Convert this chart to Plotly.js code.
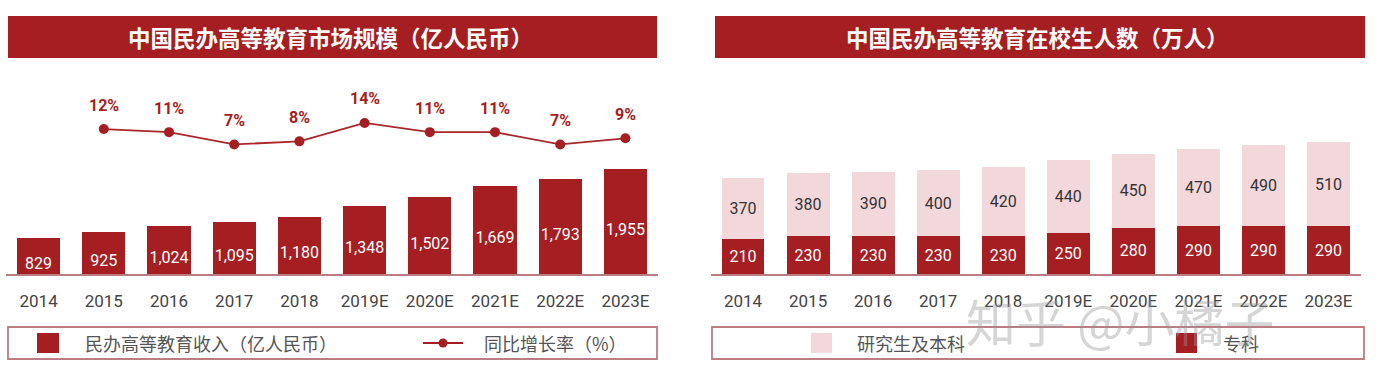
<!DOCTYPE html>
<html><head><meta charset="utf-8">
<script src="https://cdn.plot.ly/plotly-3.0.1.min.js"></script>
<style>html,body{margin:0;padding:0;background:#fff;} #chart{width:1384px;height:378px;}</style>
</head><body><div id="chart"></div>
<script>
// ---- data ----
const years = ['2014','2015','2016','2017','2018','2019E','2020E','2021E','2022E','2023E'];
const revenue = [829, 925, 1024, 1095, 1180, 1348, 1502, 1669, 1793, 1955];
const growthYears = ['2015','2016','2017','2018','2019E','2020E','2021E','2022E','2023E'];
const growth = [12, 11, 7, 8, 14, 11, 11, 7, 9];
const zhuanke = [210, 230, 230, 230, 230, 250, 280, 290, 290, 290];
const benke = [370, 380, 390, 400, 420, 440, 450, 470, 490, 510];
const leftTitle = '中国民办高等教育市场规模（亿人民币）';
const rightTitle = '中国民办高等教育在校生人数（万人）';
const revenueName = '民办高等教育收入（亿人民币）';
const growthName = '同比增长率（%）';
const benkeName = '研究生及本科';
const zhuankeName = '专科';
const watermark = '知乎 @小橘子';

// ---- style ----
const RED = '#a51e22';
const PINK = '#f3d8db';
const BORDER = '#bb7c82';
const W = 1384, H = 378;
const px = x => x / W;
const py = y => 1 - y / H;
const NUMFONT = 'Roboto, "Noto Sans CJK SC", sans-serif';
const CJK = '"Noto Sans CJK SC", sans-serif';

const traces = [
  {
    type: 'bar', name: revenueName, x: years, y: revenue, xaxis: 'x', yaxis: 'y',
    marker: {color: RED},
    texttemplate: '%{y:,.0f}', textposition: 'inside', insidetextanchor: 'middle',
    constraintext: 'none', textangle: 0,
    textfont: {family: NUMFONT, size: 16, color: '#ffffff'},
    hoverinfo: 'skip'
  },
  {
    type: 'scatter', name: growthName, x: growthYears, y: growth, xaxis: 'x', yaxis: 'y2',
    mode: 'lines+markers',
    line: {color: '#a8262c', width: 1.8},
    marker: {color: RED, size: 10},
    hoverinfo: 'skip'
  },
  {
    type: 'bar', name: zhuankeName, x: years, y: zhuanke, xaxis: 'x2', yaxis: 'y3',
    marker: {color: RED},
    texttemplate: '%{y}', textposition: 'inside', insidetextanchor: 'middle',
    constraintext: 'none', textangle: 0,
    textfont: {family: NUMFONT, size: 16, color: '#ffffff'},
    hoverinfo: 'skip'
  },
  {
    type: 'bar', name: benkeName, x: years, y: benke, xaxis: 'x2', yaxis: 'y3',
    marker: {color: PINK},
    texttemplate: '%{y}', textposition: 'inside', insidetextanchor: 'middle',
    constraintext: 'none', textangle: 0,
    textfont: {family: NUMFONT, size: 16, color: '#333333'},
    hoverinfo: 'skip'
  }
];

const xCommon = {
  type: 'category', range: [-0.5, 9.5], showline: true, linecolor: BORDER, linewidth: 2,
  ticks: '', showgrid: false, zeroline: false, fixedrange: true,
  tickfont: {family: NUMFONT, size: 17, color: '#444'}, ticklabelstandoff: 11
};

const shapes = [
  // title bars
  {type: 'rect', xref: 'paper', yref: 'paper', x0: px(8), x1: px(657), y0: py(58), y1: py(16), fillcolor: RED, line: {width: 0}, layer: 'below'},
  {type: 'rect', xref: 'paper', yref: 'paper', x0: px(715), x1: px(1365), y0: py(58), y1: py(16), fillcolor: RED, line: {width: 0}, layer: 'below'},
  // legend frames
  {type: 'rect', xref: 'paper', yref: 'paper', x0: px(8), x1: px(657), y0: py(359), y1: py(327), line: {color: BORDER, width: 1.8}},
  {type: 'rect', xref: 'paper', yref: 'paper', x0: px(712), x1: px(1364), y0: py(359), y1: py(327), line: {color: BORDER, width: 1.8}},
  // legend symbols
  {type: 'rect', xref: 'paper', yref: 'paper', x0: px(37), x1: px(59), y0: py(353), y1: py(333), fillcolor: RED, line: {width: 0}},
  {type: 'line', xref: 'paper', yref: 'paper', x0: px(423), x1: px(463), y0: py(343), y1: py(343), line: {color: RED, width: 1.8}},
  {type: 'circle', xref: 'paper', yref: 'paper', x0: px(438.5), x1: px(447.5), y0: py(347.5), y1: py(338.5), fillcolor: RED, line: {width: 0}},
  {type: 'rect', xref: 'paper', yref: 'paper', x0: px(811), x1: px(832), y0: py(353), y1: py(333), fillcolor: PINK, line: {width: 0}},
  {type: 'rect', xref: 'paper', yref: 'paper', x0: px(1176), x1: px(1197), y0: py(353), y1: py(333), fillcolor: RED, line: {width: 0}}
];

const paperText = (x, y, text, font, xanchor) => ({
  xref: 'paper', yref: 'paper', x: px(x), y: py(y), text: text, showarrow: false,
  xanchor: xanchor || 'center', yanchor: 'middle', font: font
});

const legendFont = {family: CJK, size: 18, color: '#555'};
const titleFont = {family: CJK, size: 22.5, color: '#ffffff', weight: 'bold'};

const annotations = [
  paperText(330, 37, leftTitle, titleFont),
  paperText(1037, 37, rightTitle, titleFont),
  paperText(83, 343, revenueName, legendFont, 'left'),
  paperText(482, 343, growthName, legendFont, 'left'),
  paperText(855, 343, benkeName, legendFont, 'left'),
  paperText(1221, 343, zhuankeName, legendFont, 'left'),
  paperText(1120, 320, watermark, {family: CJK, size: 50, color: 'rgba(150,150,150,0.4)'})
].concat(growth.map((g, i) => ({
  xref: 'x', yref: 'y2', x: years.indexOf(growthYears[i]), y: g, text: g + '%', showarrow: false,
  xanchor: 'center', yanchor: 'middle', yshift: 24,
  font: {family: NUMFONT, size: 16, color: RED, weight: 'bold'}
})));

const layout = {
  width: W, height: H,
  margin: {l: 0, r: 0, t: 0, b: 0, pad: 0},
  paper_bgcolor: '#ffffff', plot_bgcolor: 'rgba(0,0,0,0)',
  showlegend: false, barmode: 'stack', bargap: 0.34,
  font: {family: NUMFONT},
  xaxis: Object.assign({}, xCommon, {domain: [px(6), px(658)], anchor: 'y'}),
  yaxis: {domain: [py(274), py(60)], range: [250, 3713], visible: false, fixedrange: true},
  yaxis2: {overlaying: 'y', anchor: 'x', range: [-35.2, 34.5], visible: false, fixedrange: true},
  xaxis2: Object.assign({}, xCommon, {domain: [px(710.5), px(1361)], anchor: 'y3'}),
  yaxis3: {domain: [py(274), py(60)], range: [0, 1297], visible: false, anchor: 'x2', fixedrange: true},
  shapes: shapes,
  annotations: annotations
};

Plotly.newPlot('chart', traces, layout, {staticPlot: true, displayModeBar: false});
</script>
</body></html>
